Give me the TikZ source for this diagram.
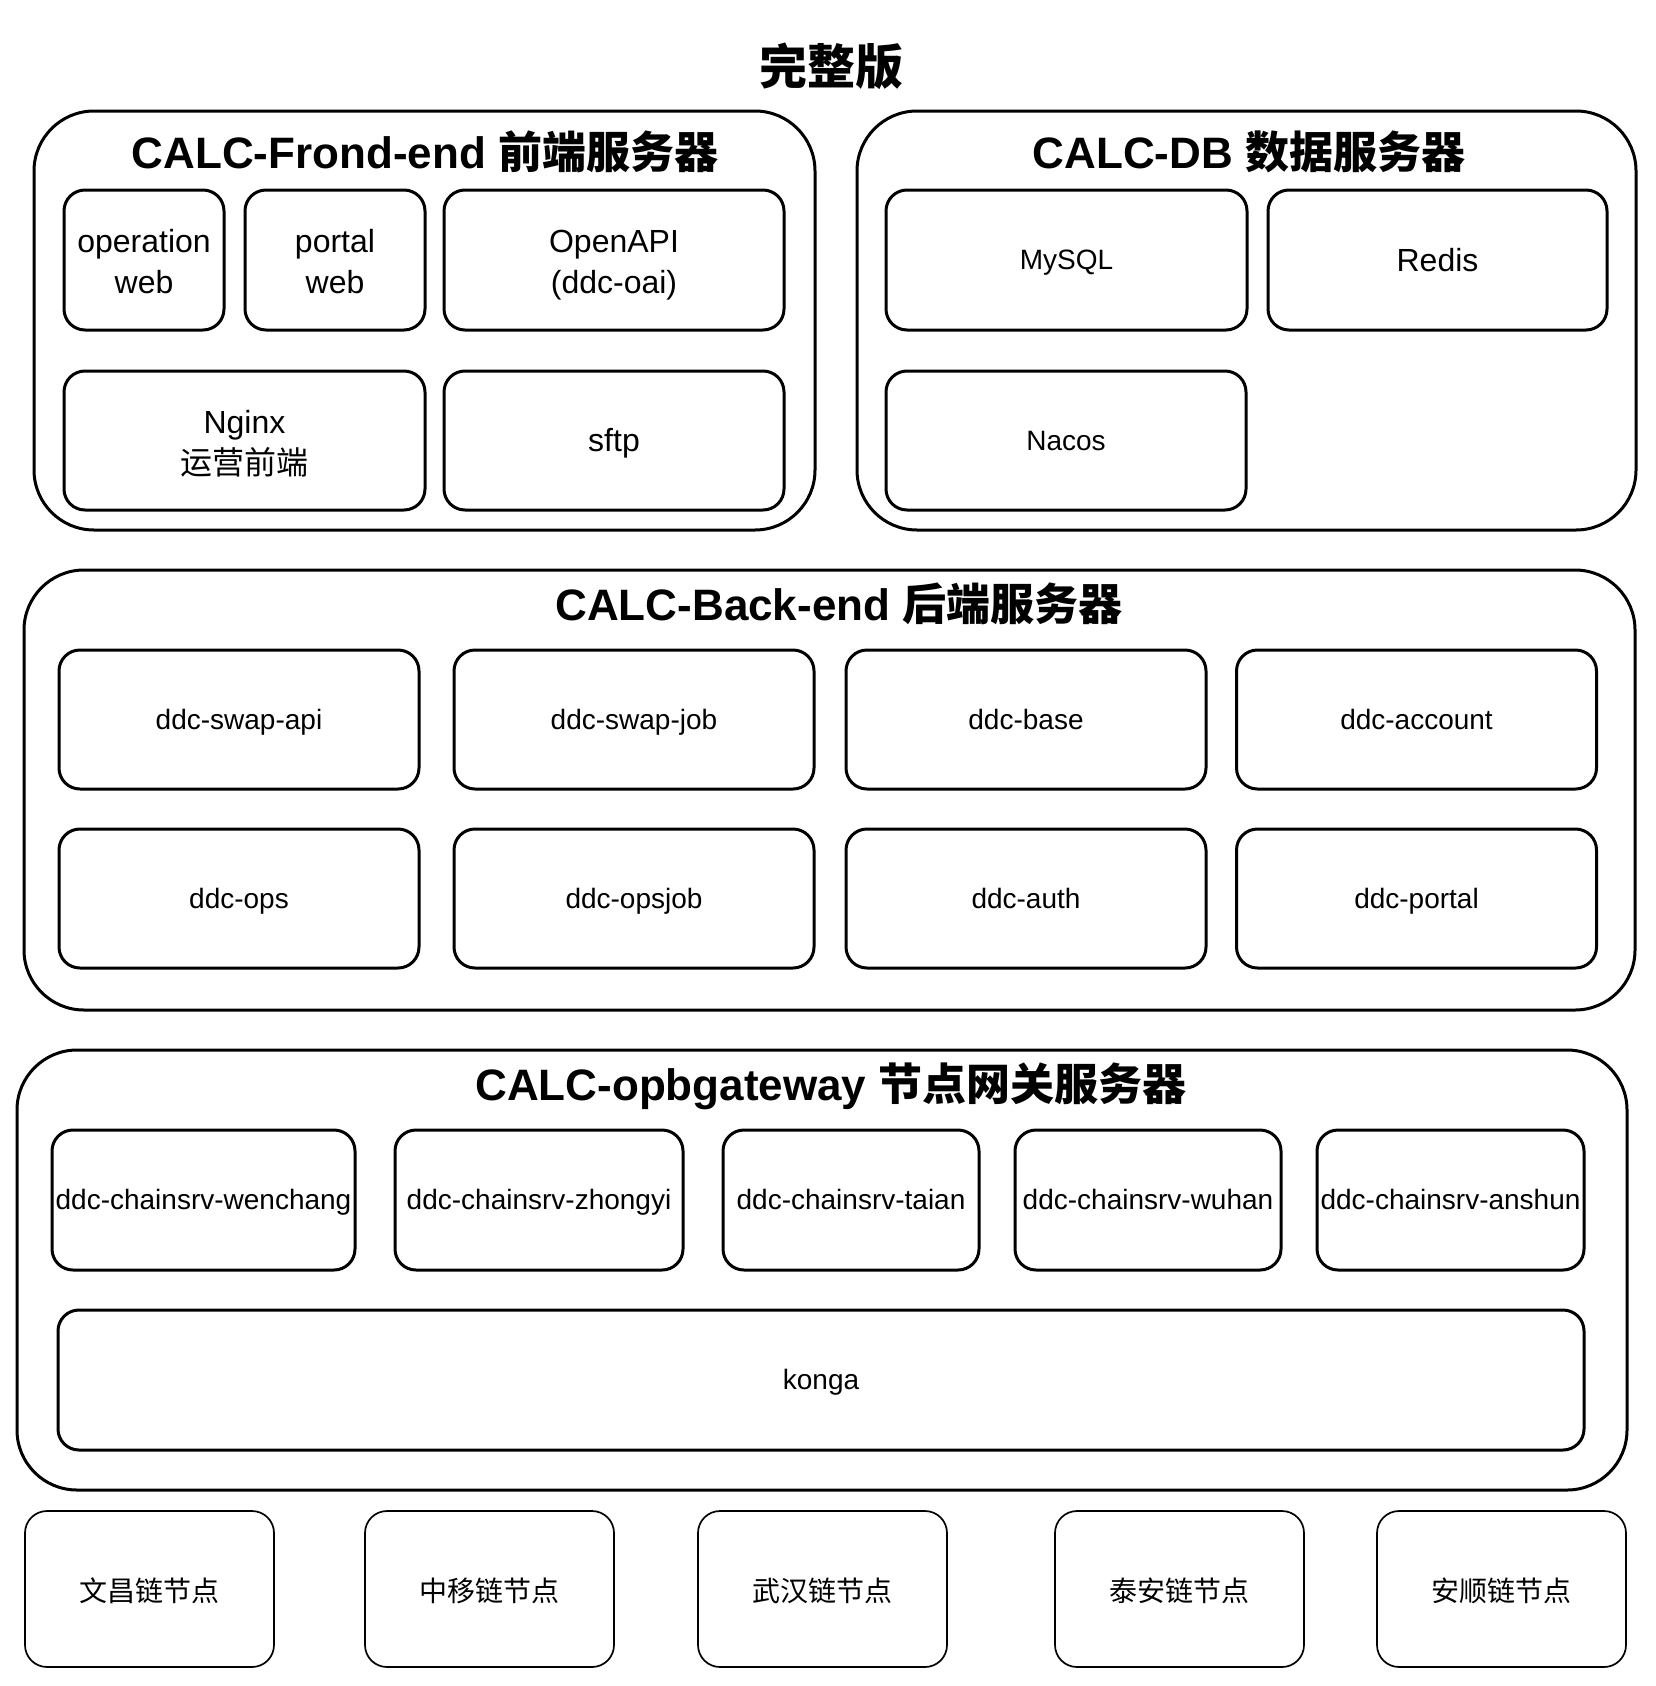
\documentclass[tikz,border=0pt]{standalone}
\usepackage{fontspec}
\setmainfont{Liberation Sans}
\newfontfamily\cjk{Noto Sans CJK SC}
\newcommand\sx{\rule[-0.257em]{0pt}{1.207em}}
\newcommand\sz{\rule[-0.22em]{0pt}{1.258em}}
\newcommand\sy{\rule[-0.2em]{0pt}{1.3em}}
\tikzset{
  cont/.style={draw, line width=3pt, rounded corners=60pt, inner sep=0pt},
  box/.style={draw, line width=3pt, rounded corners=21pt, inner sep=0pt, align=center,
    font=\fontsize{28}{34}\selectfont},
  bigbox/.style={box, font=\fontsize{32}{41}\selectfont},
  chainbox/.style={draw, line width=1.7pt, rounded corners=22pt, inner sep=0pt, align=center,
    minimum width=249pt, minimum height=156pt, font=\fontsize{28}{34}\selectfont\cjk},
  ttl/.style={inner sep=0pt, font=\fontsize{44}{50}\selectfont\bfseries},
  wh/.style 2 args={minimum width=#1pt, minimum height=#2pt}
}
\begin{document}
\begin{tikzpicture}[x=1pt,y=-1pt]
\useasboundingbox (0,0) rectangle (1655,1686);
% main title
\node[inner sep=0pt, font=\fontsize{48}{54}\selectfont\bfseries\cjk] (title) at (831,66) {完整版};

% ---------- Front-end ----------
\node[cont, wh={781}{419}] (fe) at (424.5,320.5) {};
\node[ttl] (fet) at (425,153) {\sx CALC-Frond-end {\cjk 前端服务器}};
\node[bigbox, wh={160}{140}] (opweb) at (144,260) {\sz operation\\\sz web};
\node[bigbox, wh={180}{140}] (ptweb) at (335,260) {\sz portal\\\sz web};
\node[bigbox, wh={340}{140}] (oai) at (614,260) {\sz OpenAPI\\\sz (ddc-oai)};
\node[bigbox, wh={361}{139}] (nginx) at (244.5,440.5) {\sz Nginx\\\sz{\cjk 运营前端}};
\node[bigbox, wh={340}{139}] (sftp) at (614,440.5) {\sx sftp};

% ---------- DB ----------
\node[cont, wh={779}{419}] (db) at (1246.5,320.5) {};
\node[ttl] (dbt) at (1249,153) {\sx CALC-DB {\cjk 数据服务器}};
\node[box, wh={361}{140}] (mysql) at (1066.5,260) {\sx MySQL};
\node[bigbox, wh={339}{140}] (redis) at (1437.5,260) {\sx Redis};
\node[box, wh={360}{139}] (nacos) at (1066,440.5) {\sx Nacos};

% ---------- Back-end ----------
\node[cont, wh={1611}{440}] (be) at (829.5,790) {};
\node[ttl] (bet) at (839,605) {\sx CALC-Back-end {\cjk 后端服务器}};
\node[box, wh={360}{139}] (swapapi) at (239,719.5) {\sx ddc-swap-api};
\node[box, wh={360}{139}] (swapjob) at (634,719.5) {\sx ddc-swap-job};
\node[box, wh={360}{139}] (base) at (1026,719.5) {\sx ddc-base};
\node[box, wh={360}{139}] (account) at (1416.5,719.5) {\sx ddc-account};
\node[box, wh={360}{139}] (ops) at (239,898.5) {\sx ddc-ops};
\node[box, wh={360}{139}] (opsjob) at (634,898.5) {\sx ddc-opsjob};
\node[box, wh={360}{139}] (auth) at (1026,898.5) {\sx ddc-auth};
\node[box, wh={360}{139}] (portal) at (1416.5,898.5) {\sx ddc-portal};

% ---------- Gateway ----------
\node[cont, wh={1610}{440}] (gw) at (822,1270) {};
\node[ttl] (gwt) at (831,1085) {\sx CALC-opbgateway {\cjk 节点网关服务器}};
\node[box, wh={303}{140}] (wenchang) at (203.5,1200) {\sx ddc-chainsrv-wenchang};
\node[box, wh={288}{140}] (zhongyi) at (539,1200) {\sx ddc-chainsrv-zhongyi};
\node[box, wh={256}{140}] (taian) at (851,1200) {\sx ddc-chainsrv-taian};
\node[box, wh={266}{140}] (wuhan) at (1148,1200) {\sx ddc-chainsrv-wuhan};
\node[box, wh={267}{140}] (anshun) at (1450.5,1200) {\sx ddc-chainsrv-anshun};
\node[box, wh={1526}{140}] (konga) at (821,1380) {\sx konga};

% ---------- chain nodes ----------
\node[chainbox] (n1) at (149.5,1589) {\sy 文昌链节点};
\node[chainbox] (n2) at (489.5,1589) {\sy 中移链节点};
\node[chainbox] (n3) at (822.5,1589) {\sy 武汉链节点};
\node[chainbox] (n4) at (1179.5,1589) {\sy 泰安链节点};
\node[chainbox] (n5) at (1501.5,1589) {\sy 安顺链节点};
\end{tikzpicture}
\end{document}
